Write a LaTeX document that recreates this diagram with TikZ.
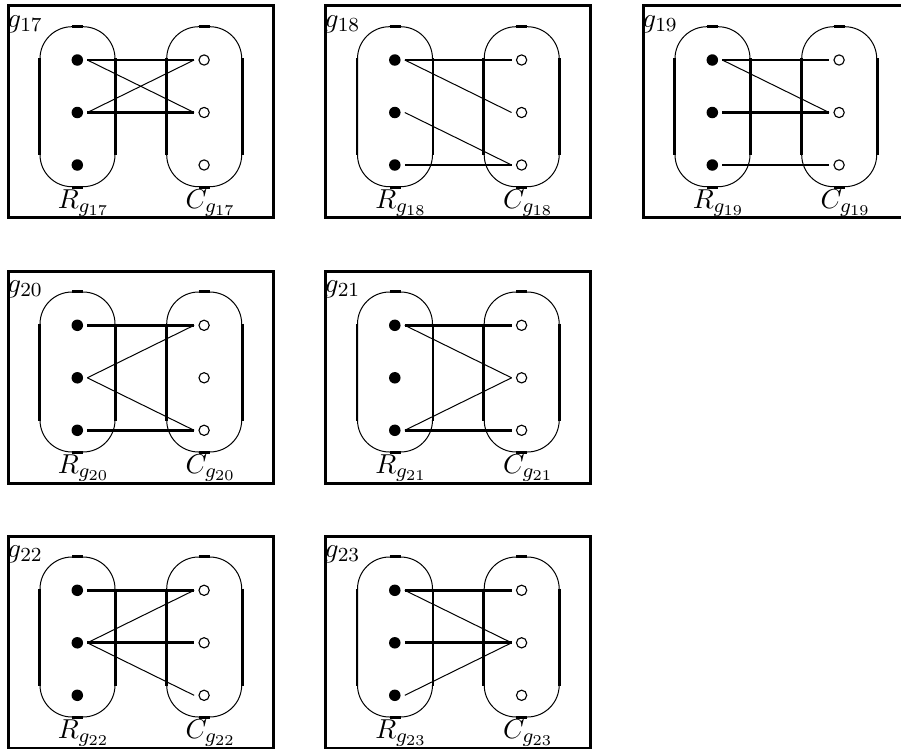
\documentclass[tikz,border=0pt]{standalone}
\tikzset{
  frame/.style={line width=1.2pt},
  bag/.style={draw, line width=0.4pt, rounded corners=12.8pt, minimum width=30pt, minimum height=64pt, inner sep=0pt},
  bagside/.style={line width=1.1pt},
  rdot/.style={circle, fill=black, draw=none, inner sep=0pt, minimum size=4.6pt, outer sep=1.7pt},
  cdot/.style={circle, draw=black, line width=0.45pt, inner sep=0pt, minimum size=4.1pt, outer sep=1.95pt},
  fat/.style={line width=1.15pt},
  slim/.style={line width=0.4pt},
  lab/.style={anchor=base west, inner sep=0pt},
}
\newcommand\bagsides[1]{%
  \draw[bagside] ([yshift=-12.8pt]#1.north west) -- ([yshift=12.8pt]#1.south west);
  \draw[bagside] ([yshift=-12.8pt]#1.north east) -- ([yshift=12.8pt]#1.south east);
  \draw[bagside] ([xshift=-2.2pt]#1.north) -- ([xshift=2.2pt]#1.north);
  \draw[bagside] ([xshift=-2.2pt]#1.south) -- ([xshift=2.2pt]#1.south);
}
\newcommand\gpanel[4]{%
  \begin{scope}[shift={(#1,#2)}]
    \draw[frame] (0,0) rectangle (265,212);
    \node[lab] (g#3) at (-1.6,21.3) {$g_{#3}$};
    \node[bag] (L#3) at (69.2,101) {};
    \node[bag] (K#3) at (195.9,101) {};
    \bagsides{L#3}
    \bagsides{K#3}
    \node[rdot] (R#3-1) at (69,54.3) {};
    \node[rdot] (R#3-2) at (69,106.8) {};
    \node[rdot] (R#3-3) at (69,159.3) {};
    \node[cdot] (C#3-1) at (195.8,54.3) {};
    \node[cdot] (C#3-2) at (195.8,106.8) {};
    \node[cdot] (C#3-3) at (195.8,159.3) {};
    \node[lab] (RL#3) at (49,202.6) {$R_{g_{#3}}$};
    \node[lab] (CL#3) at (176.7,202.6) {$C_{g_{#3}}$};
    \foreach \i/\j/\s in {#4} {\draw[\s] (R#3-\i.east) -- (C#3-\j.west);}
  \end{scope}}
\begin{document}
\begin{tikzpicture}[x=0.4pt, y=-0.4pt, font=\fontsize{10.95pt}{13pt}\selectfont]
  \useasboundingbox (0,0) rectangle (901,748);
  \clip (0,0) rectangle (901,748);
  \gpanel{8.3}{5.7}{17}{1/1/fat, 2/2/fat, 1/2/slim, 2/1/slim}
  \gpanel{325.8}{5.7}{18}{1/1/fat, 3/3/fat, 1/2/slim, 2/3/slim}
  \gpanel{643.3}{5.7}{19}{1/1/fat, 2/2/fat, 3/3/fat, 1/2/slim}
  \gpanel{8.3}{271}{20}{1/1/fat, 3/3/fat, 2/1/slim, 2/3/slim}
  \gpanel{325.8}{271}{21}{1/1/fat, 3/3/fat, 1/2/slim, 3/2/slim}
  \gpanel{8.3}{536}{22}{1/1/fat, 2/2/fat, 2/1/slim, 2/3/slim}
  \gpanel{325.8}{536}{23}{1/1/fat, 2/2/fat, 1/2/slim, 3/2/slim}
\end{tikzpicture}
\end{document}
